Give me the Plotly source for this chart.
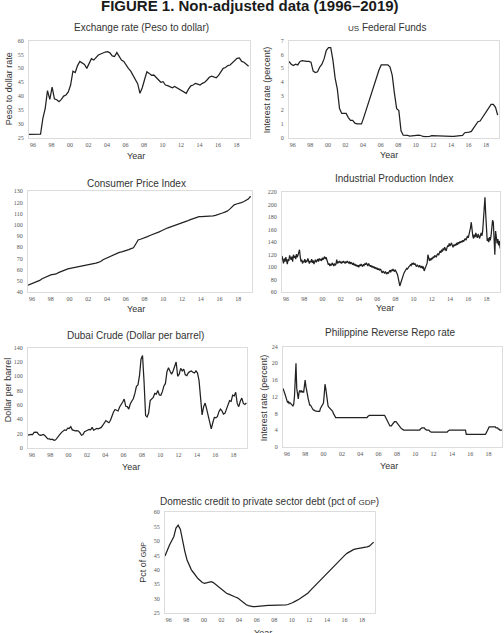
import plotly.graph_objects as go

W, H = 504, 633

# ---------------- data ----------------
tick_years = [1996, 1998, 2000, 2002, 2004, 2006, 2008, 2010, 2012, 2014, 2016, 2018]
tick_text = ['96', '98', '00', '02', '04', '06', '08', '10', '12', '14', '16', '18']

# Exchange rate, peso per dollar, quarterly 1996Q1-2019Q4
exch_q = [26.2, 26.2, 26.2, 26.2, 26.3, 26.3, 32.0, 35.5,
          42.0, 38.8, 43.2, 39.0, 38.7, 38.0, 38.8, 40.0,
          40.4, 41.5, 44.0, 49.0, 48.5, 51.0, 52.5, 51.8,
          51.4, 50.0, 51.8, 53.5, 53.0, 54.0, 54.8, 55.2,
          55.7, 55.9, 56.0, 55.6, 54.5, 54.3, 55.7, 54.5,
          53.0, 52.5, 51.0, 50.0, 49.0, 47.5, 46.0, 44.5,
          41.0, 43.0, 46.0, 48.8, 48.2, 47.5, 47.6, 46.8,
          46.0, 45.0, 45.2, 44.0, 43.8, 43.3, 43.0, 43.5,
          43.0, 42.5, 42.3, 41.5, 41.0, 42.5, 43.7, 44.0,
          44.6, 44.3, 44.0, 44.6, 45.0, 45.8, 46.8, 47.2,
          47.0, 46.6, 47.5, 49.0, 50.0, 50.3, 51.0, 51.2,
          52.0, 52.8, 53.6, 53.8, 52.5, 52.2, 51.5, 50.8]

# US Federal Funds rate, quarterly
fed_q = [5.5, 5.3, 5.2, 5.3, 5.25, 5.5, 5.55, 5.5,
         5.5, 5.5, 5.45, 4.8, 4.7, 4.75, 5.1, 5.3,
         5.7, 6.3, 6.5, 6.5, 5.6, 4.3, 3.5, 2.1,
         1.75, 1.75, 1.75, 1.45, 1.25, 1.25, 1.05, 1.0,
         1.0, 1.0, 1.45, 1.95, 2.5, 2.9, 3.4, 3.95,
         4.45, 4.9, 5.25, 5.25, 5.25, 5.25, 5.1, 4.5,
         3.2, 2.1, 1.95, 0.5, 0.18, 0.18, 0.16, 0.12,
         0.13, 0.19, 0.19, 0.19, 0.16, 0.09, 0.08, 0.07,
         0.10, 0.15, 0.14, 0.16, 0.14, 0.11, 0.08, 0.09,
         0.07, 0.09, 0.09, 0.10, 0.11, 0.12, 0.13, 0.16,
         0.36, 0.37, 0.40, 0.45, 0.70, 0.95, 1.15, 1.20,
         1.45, 1.74, 1.92, 2.22, 2.40, 2.40, 2.19, 1.64]

# Consumer Price Index, quarterly
cpi_q = [46.2, 47.0, 47.8, 48.8, 49.6, 50.5, 52.0, 53.0,
         54.0, 55.0, 55.6, 56.0, 56.3, 57.5, 58.5, 59.2,
         59.8, 60.8, 61.2, 61.6, 62.2, 62.8, 63.0, 63.3,
         63.6, 64.2, 64.6, 65.0, 65.4, 66.0, 66.6, 67.4,
         69.0, 70.0, 70.8, 71.8, 72.8, 73.8, 74.8, 75.5,
         76.0, 76.5, 77.4, 78.0, 78.8, 79.6, 83.0, 86.5,
         87.2, 87.8, 88.6, 89.6, 90.5, 91.2, 92.0, 93.0,
         93.8, 94.8, 96.0, 96.8, 97.6, 98.3, 99.2, 100.0,
         100.4, 101.0, 101.8, 102.5, 103.5, 104.5, 105.2, 106.0,
         106.8, 107.3, 107.4, 107.4, 107.4, 107.4, 107.5, 108.0,
         108.5, 109.0, 109.8, 110.6, 111.4, 112.2, 113.8, 115.5,
         117.8, 118.6, 119.0, 119.8, 120.6, 121.8, 123.0, 125.5]

# Industrial Production Index, monthly
ipi_m = [118, 110, 106, 114, 109, 116, 112, 105, 113, 110, 119, 114,
         112, 117, 109, 120, 115, 118, 113, 121, 116, 119, 124, 128,
         117, 109, 112, 106, 110, 108, 113, 107, 111, 109, 114, 110,
         106, 110, 108, 113, 107, 111, 105, 109, 112, 108, 110, 113,
         109, 114, 111, 113, 110, 115, 112, 114, 117, 113, 116, 112,
         108, 104, 106, 102, 105, 103, 107, 104, 102, 106, 103, 105,
         112, 106, 109, 107, 110, 108, 106, 109, 107, 110, 108, 106,
         109, 107, 110, 108, 106, 109, 105, 108, 106, 104, 107, 103,
         105, 102, 104, 101, 103, 100, 104, 102, 105, 103, 101, 104,
         103, 106, 104, 107, 105, 102, 106, 104, 101, 103, 100, 102,
         99, 101, 98, 100, 97, 99, 96, 98, 95, 97, 96, 93,
         91, 94, 92, 90, 93, 91, 89, 92, 90, 93, 95, 92,
         96, 94, 97, 95, 93, 96, 94, 92, 88, 82, 75, 70,
         74, 79, 83, 86, 89, 92, 94, 96, 98, 97, 100, 101,
         102, 104, 103, 106, 105, 107, 104, 106, 103, 101, 104, 102,
         100, 103, 101, 99, 102, 98, 101, 94, 97, 100, 104, 107,
         120, 112, 110, 114, 111, 115, 113, 117, 115, 119, 118, 116,
         120, 122, 119, 124, 126, 123, 128, 125, 130, 127, 132, 129,
         126, 131, 135, 133, 138, 134, 137, 139, 135, 132, 136, 134,
         137, 135, 139, 136, 140, 138, 141, 139, 142, 140, 143, 141,
         144, 146, 143, 148, 150, 147, 152, 156, 163, 172, 158, 150,
         146, 152, 148, 155, 150, 147, 153, 149, 146, 151, 155, 150,
         158, 175, 195, 212, 185, 150, 142, 146, 140, 148, 143, 150,
         165, 175, 172, 140, 120, 158, 150, 138, 145, 135, 142, 130]

# Dubai crude, dollar per barrel, every two months
dubai_b = [17.5, 18.5, 18.8, 18.5, 21.5, 22.0,
           21.5, 18.5, 17.5, 17.8, 18.5, 17.0,
           14.5, 12.5, 12.5, 11.5, 12.0, 10.5,
           10.8, 14.0, 15.5, 19.0, 21.5, 23.5,
           25.0, 24.5, 27.5, 27.0, 29.5, 25.0,
           24.0, 23.5, 24.0, 23.5, 21.0, 17.5,
           18.5, 22.5, 23.5, 24.5, 25.5, 25.0,
           28.5, 24.5, 25.5, 27.0, 26.5, 27.5,
           28.5, 31.5, 34.0, 38.0, 36.5, 35.0,
           38.5, 45.5, 50.0, 53.5, 52.5, 51.5,
           57.0, 61.5, 64.0, 68.0, 58.0, 57.5,
           54.0, 61.5, 65.0, 69.0, 76.0, 86.0,
           88.0, 101.0, 124.0, 129.0, 92.0, 45.0,
           43.0, 48.5, 66.0, 69.0, 70.5, 76.0,
           75.0, 80.0, 74.0, 73.5, 78.5, 86.5,
           90.0, 106.5, 112.0, 107.0, 103.0, 107.5,
           113.5, 120.0, 100.0, 103.0, 111.0, 107.5,
           110.0, 102.0, 101.0, 105.0, 106.5, 107.5,
           105.5, 104.5, 107.5, 104.5, 94.0, 63.0,
           46.0, 57.5, 62.5, 54.0, 45.5, 36.0,
           26.5, 35.0, 42.5, 42.0, 43.5, 50.5,
           54.0, 51.5, 47.0, 48.5, 54.5, 60.0,
           66.0, 65.0, 73.5, 72.5, 77.5, 62.0,
           57.5, 65.0, 69.5, 62.0, 60.5, 62.5]

# Philippine reverse repo rate, monthly
repo_m = [14.0, 13.6, 13.0, 12.4, 11.8, 11.0, 10.6, 10.8, 10.4, 10.6, 10.3, 10.2,
          10.0, 9.8, 10.2, 12.0, 16.5, 20.0, 14.0, 12.0, 11.5, 13.0, 13.5, 13.2,
          13.5, 13.0, 13.4, 13.0, 14.0, 16.0, 14.5, 13.0, 12.5, 11.5, 10.5, 10.0,
          10.0, 9.5, 9.2, 9.0, 8.8, 8.8, 8.6, 8.5, 8.4, 8.5, 8.5, 8.4,
          8.5, 9.2, 9.5, 10.0, 10.0, 10.5, 12.5, 15.0, 14.0, 12.0, 10.5, 9.8,
          9.5, 9.3, 9.0, 9.0, 8.8, 8.5, 8.0, 7.5, 7.2, 7.0, 7.0, 7.0,
          7.0, 7.0, 7.0, 7.0, 7.0, 7.0, 7.0, 7.0, 7.0, 7.0, 7.0, 7.0,
          7.0, 7.0, 7.0, 7.0, 7.0, 7.0, 7.0, 7.0, 7.0, 7.0, 7.0, 7.0,
          7.0, 7.0, 7.0, 7.0, 7.0, 7.0, 7.0, 7.0, 7.0, 7.0, 7.0, 7.0,
          7.0, 7.0, 7.0, 7.25, 7.5, 7.5, 7.5, 7.5, 7.5, 7.5, 7.5, 7.5,
          7.5, 7.5, 7.5, 7.5, 7.5, 7.5, 7.5, 7.5, 7.5, 7.5, 7.5, 7.5,
          7.5, 7.5, 7.2, 6.8, 6.2, 6.0, 5.6, 5.2, 5.0, 5.0, 5.0, 5.3,
          5.6, 5.8, 6.0, 6.0, 6.0, 5.8, 5.5, 5.2, 5.0, 4.8, 4.6, 4.4,
          4.2, 4.1, 4.0, 4.0, 4.0, 4.0, 4.0, 4.0, 4.0, 4.0, 4.0, 4.0,
          4.0, 4.0, 4.0, 4.0, 4.0, 4.0, 4.0, 4.0, 4.0, 4.0, 4.0, 4.0,
          4.25, 4.5, 4.5, 4.5, 4.5, 4.5, 4.25, 4.0, 4.0, 4.0, 4.0, 4.0,
          3.75, 3.5, 3.5, 3.5, 3.5, 3.5, 3.5, 3.5, 3.5, 3.5, 3.5, 3.5,
          3.5, 3.5, 3.5, 3.5, 3.5, 3.5, 3.5, 3.5, 3.5, 3.5, 3.5, 3.5,
          3.75, 4.0, 4.0, 4.0, 4.0, 4.0, 4.0, 4.0, 4.0, 4.0, 4.0, 4.0,
          4.0, 4.0, 4.0, 4.0, 4.0, 4.0, 4.0, 4.0, 4.0, 4.0, 4.0, 4.0,
          3.0, 3.0, 3.0, 3.0, 3.0, 3.0, 3.0, 3.0, 3.0, 3.0, 3.0, 3.0,
          3.0, 3.0, 3.0, 3.0, 3.0, 3.0, 3.0, 3.0, 3.0, 3.0, 3.0, 3.0,
          3.0, 3.0, 3.25, 3.75, 4.25, 4.5, 4.75, 4.75, 4.75, 4.75, 4.75, 4.75,
          4.75, 4.75, 4.75, 4.5, 4.5, 4.5, 4.25, 4.25, 4.0, 4.0, 4.0, 4.0]

# Domestic credit to private sector (pct of GDP), quarterly
credit_q = [44.8, 47.0, 48.5, 50.0, 51.5, 54.5, 55.5, 54.0,
            50.0, 46.5, 43.5, 41.5, 40.0, 39.0, 37.8, 37.0,
            36.3, 35.6, 35.3, 35.5, 35.7, 35.9, 35.6, 35.0,
            34.2, 33.5, 33.0, 32.4, 31.9, 31.6, 31.2, 30.8,
            30.6, 30.3, 29.7, 29.0, 28.3, 27.9, 27.6, 27.4,
            27.3, 27.3, 27.4, 27.4, 27.4, 27.5, 27.6, 27.7,
            27.7, 27.7, 27.7, 27.8, 27.8, 27.8, 27.9, 27.9,
            28.0, 28.2, 28.6, 29.0, 29.3, 29.8, 30.3, 30.8,
            31.2, 31.9, 32.7, 33.5, 34.1, 34.8, 35.7, 36.6,
            37.5, 38.3, 39.1, 39.9, 40.6, 41.3, 42.1, 42.9,
            43.7, 44.5, 45.2, 45.8, 46.3, 46.8, 47.1, 47.3,
            47.4, 47.5, 47.7, 47.8, 48.0, 48.2, 48.8, 49.6]


def xs(values, per_year):
    return [1996 + i / per_year for i in range(len(values))]


def px_x(p):
    return p / W


def px_y(p):
    return 1 - p / H


LINE = dict(color='#222222', width=1.25)
TICKFONT = dict(family='Liberation Serif, Times New Roman, serif', size=6, color='#555555')
SANS = 'Liberation Sans, Arial, sans-serif'
XRANGE = [1996.0, 2019.9]

panels = [
    dict(xd=(29, 250), yd=(38, 136), yr=(25, 60), dt=5, v=exch_q, f=4),
    dict(xd=(289, 499), yd=(38, 136), yr=(0, 7), dt=1, v=fed_q, f=4),
    dict(xd=(28, 252), yd=(190, 292), yr=(40, 130), dt=10, v=cpi_q, f=4),
    dict(xd=(282, 500), yd=(191, 292), yr=(60, 220), dt=20, v=ipi_m, f=12),
    dict(xd=(28, 247), yd=(348, 449), yr=(0, 140), dt=20, v=dubai_b, f=6),
    dict(xd=(283, 502), yd=(347, 448), yr=(0, 24), dt=4, v=repo_m, f=12),
    dict(xd=(165, 375), yd=(514, 616), yr=(25, 60), dt=5, v=credit_q, f=4),
]

fig = go.Figure()
layout = dict(width=W, height=H, margin=dict(l=0, r=0, t=0, b=0),
              paper_bgcolor='white', plot_bgcolor='white', showlegend=False)

tickvals = [y + 0.43 for y in tick_years]

for i, p in enumerate(panels):
    n = '' if i == 0 else str(i + 1)
    fig.add_trace(go.Scatter(x=xs(p['v'], p['f']), y=p['v'], mode='lines',
                             line=LINE, xaxis='x' + n, yaxis='y' + n,
                             hoverinfo='skip'))
    layout['xaxis' + n] = dict(domain=[px_x(p['xd'][0]), px_x(p['xd'][1])],
                               anchor='y' + n, range=XRANGE,
                               tickmode='array', tickvals=tickvals, ticktext=tick_text,
                               showgrid=False, zeroline=False, showline=True,
                               linecolor='#dcdcdc', linewidth=1, mirror=True,
                               ticks='', tickfont=TICKFONT, ticklabelstandoff=1)
    layout['yaxis' + n] = dict(domain=[px_y(p['yd'][1]), px_y(p['yd'][0])],
                               anchor='x' + n, range=list(p['yr']), dtick=p['dt'],
                               tick0=p['yr'][0],
                               showgrid=False, zeroline=False, showline=True,
                               linecolor='#dcdcdc', linewidth=1, mirror=True,
                               ticks='', tickfont=TICKFONT, ticklabelstandoff=3)

ann = []


def text(t, x, y, size, color='#333333', angle=0, bold=False):
    ann.append(dict(text=('<b>%s</b>' % t) if bold else t,
                    x=px_x(x), y=px_y(y), xref='paper', yref='paper',
                    xanchor='center', yanchor='middle', showarrow=False,
                    textangle=angle,
                    font=dict(family=SANS, size=size, color=color)))


text('FIGURE 1. Non-adjusted data (1996–2019)', 250, 3, 15, color='#1a1a1a', bold=True)

sc = '<span style="font-size:8px">%s</span>'
text('Exchange rate (Peso to dollar)', 141, 25, 10)
text(sc % 'US' + ' Federal Funds', 387, 25, 10)
text('Consumer Price Index', 136, 182, 10)
text('Industrial Production Index', 394, 177, 10)
text('Dubai Crude (Dollar per barrel)', 135, 336, 10)
text('Philippine Reverse Repo rate', 390, 333, 10)
text('Domestic credit to private sector debt (pct of ' + sc % 'GDP' + ')', 269, 503, 10)

for x, y in [(136, 154), (389, 153), (136, 309), (385, 308), (131, 468), (389, 467), (263, 636)]:
    text('Year', x, y, 9)

text('Peso to dollar rate', 9, 87, 9, angle=-90)
text('Interest rate (percent)', 267, 88, 9, angle=-90)
text('Dollar per barrel', 8, 391, 9, angle=-90)
text('Interest rate (percent)', 264, 399, 9, angle=-90)
text('Pct of ' + '<span style="font-size:7px">GDP</span>', 143, 565, 9, angle=-90)

layout['annotations'] = ann
fig.update_layout(**layout)
fig.write_html('out.html')
